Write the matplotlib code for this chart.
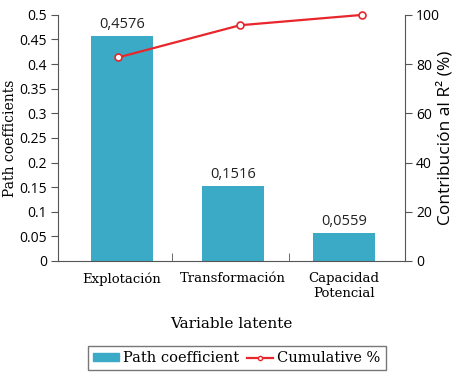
import matplotlib.pyplot as plt
from matplotlib.lines import Line2D
from matplotlib.patches import Patch

categories = ['Explotación', 'Transformación', 'Capacidad\nPotencial']
path_coef = [0.4576, 0.1516, 0.0559]
bar_labels = ['0,4576', '0,1516', '0,0559']
cumulative = [82.7, 95.8, 100]

bar_color = '#3aaac6'
line_color = '#e8262b'
serif = 'DejaVu Serif'
sans = 'Open Sans'

fig = plt.figure(figsize=(4.64, 3.82), dpi=100)
pos = [0.125, 0.317, 0.748, 0.644]
ax = fig.add_axes(pos)

x = list(range(len(categories)))
ax.bar(x, path_coef, width=0.56, color=bar_color, zorder=2)
for xi, v, lab in zip(x, path_coef, bar_labels):
    ax.text(xi, v + 0.008, lab, ha='center', va='bottom', fontsize=10.5,
            family=sans, color='#222222')

ax.set_xlim(-0.577, 2.55)
ax.set_ylim(0, 0.5)
ax.set_yticks([i * 0.05 for i in range(11)])
ax.set_yticklabels(['0', '0.05', '0.1', '0.15', '0.2', '0.25', '0.3', '0.35',
                    '0.4', '0.45', '0.5'], family=sans, fontsize=10)
ax.set_xticks(x)
ax.set_xticklabels(categories, family=serif, fontsize=9.5)
ax.tick_params(axis='x', length=0, pad=8)
ax.set_xticks([0.45, 1.5], minor=True)
ax.tick_params(axis='x', which='minor', direction='in', length=6, color='#555555')
ax.tick_params(axis='y', length=5, color='#555555', pad=3)
ax.spines['top'].set_visible(False)
ax.spines['right'].set_visible(False)
for s in ['left', 'bottom']:
    ax.spines[s].set_color('#555555')
ax.set_ylabel('Path coefficients', family=serif, fontsize=10)
ax.yaxis.set_label_coords(-0.118, 0.5)
ax.set_xlabel('Variable latente', family=serif, fontsize=11, labelpad=12)

# cumulative line sits on its own (secondary) x scale, as in the original
ax2 = fig.add_axes(pos, facecolor='none')
ax2.plot(x, cumulative, color=line_color, lw=1.6, marker='o', ms=5,
         mfc='white', mec=line_color, mew=1.2, zorder=3, clip_on=False)
ax2.set_xlim(-0.492, 2.352)
ax2.set_ylim(0, 100)
ax2.set_xticks([])
ax2.yaxis.tick_right()
ax2.yaxis.set_label_position('right')
ax2.set_yticks([0, 20, 40, 60, 80, 100])
ax2.set_yticklabels(['0', '20', '40', '60', '80', '100'], family=sans, fontsize=10)
ax2.tick_params(axis='y', length=5, color='#555555', pad=3)
for s in ['top', 'left', 'bottom']:
    ax2.spines[s].set_visible(False)
ax2.spines['right'].set_color('#555555')
ax2.set_ylabel('Contribución al R² (%)', family=sans, fontsize=12.5, labelpad=-2)

handles = [Patch(color=bar_color),
           Line2D([], [], color=line_color, lw=1.6, marker='o', ms=3,
                  mfc='white', mec=line_color)]
leg = fig.legend(handles, ['Path coefficient', 'Cumulative %'],
                 loc='center', bbox_to_anchor=(0.51, 0.062), ncol=2,
                 frameon=True, fancybox=False, edgecolor='#555555',
                 prop={'family': serif, 'size': 10.5}, handlelength=1.8,
                 handleheight=0.5, handletextpad=0.3, columnspacing=0.5,
                 borderpad=0.35, borderaxespad=0)
leg.get_frame().set_linewidth(1.0)

fig.savefig('out.png', dpi=100)
